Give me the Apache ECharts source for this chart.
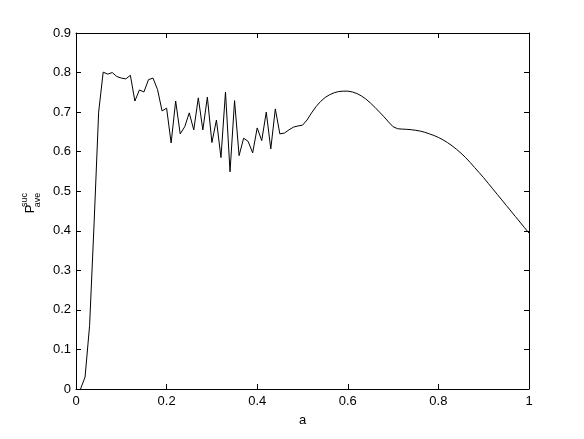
<!DOCTYPE html>
<html>
<head>
<meta charset="utf-8">
<script src="https://cdn.jsdelivr.net/npm/echarts@6/dist/echarts.min.js"></script>
<style>
html,body{margin:0;padding:0;background:#fff;}
#chart{width:584px;height:439px;}
</style>
</head>
<body>
<div id="chart"></div>
<script>
const aValues = [
  0.01,0.02,0.03,0.04,0.05,0.06,0.07,0.08,0.09,0.10,
  0.11,0.12,0.13,0.14,0.15,0.16,0.17,0.18,0.19,0.20,
  0.21,0.22,0.23,0.24,0.25,0.26,0.27,0.28,0.29,0.30,
  0.31,0.32,0.33,0.34,0.35,0.36,0.37,0.38,0.39,0.40,
  0.41,0.42,0.43,0.44,0.45,0.46,0.47,0.48,0.49,0.50,
  0.51,0.52,0.53,0.54,0.55,0.56,0.57,0.58,0.59,0.60,
  0.61,0.62,0.63,0.64,0.65,0.66,0.67,0.68,0.69,0.70,
  0.71,0.72,0.73,0.74,0.75,0.76,0.77,0.78,0.79,0.80,
  0.81,0.82,0.83,0.84,0.85,0.86,0.87,0.88,0.89,0.90,
  0.91,0.92,0.93,0.94,0.95,0.96,0.97,0.98,0.99,1.00
];
const pSucAve = [
  0.000,0.030,0.160,0.420,0.700,0.801,0.796,0.800,0.790,0.786,
  0.784,0.793,0.728,0.756,0.751,0.782,0.786,0.757,0.703,0.710,
  0.622,0.728,0.645,0.663,0.698,0.655,0.736,0.655,0.738,0.623,
  0.680,0.585,0.751,0.549,0.729,0.590,0.634,0.626,0.597,0.660,
  0.628,0.700,0.607,0.708,0.645,0.647,0.655,0.662,0.665,0.667,
  0.680,0.698,0.714,0.727,0.737,0.744,0.749,0.752,0.753,0.753,
  0.751,0.747,0.741,0.733,0.723,0.712,0.700,0.688,0.675,0.663,
  0.658,0.657,0.6565,0.6555,0.654,0.652,0.649,0.645,0.641,0.636,
  0.630,0.623,0.615,0.606,0.596,0.585,0.573,0.560,0.547,0.534,
  0.520,0.506,0.492,0.478,0.464,0.450,0.436,0.422,0.408,0.394
];
const xTicks = { min: 0, max: 1, step: 0.2 };
const yTicks = { min: 0, max: 0.9, step: 0.1 };

const FONT = 'Liberation Sans, Arial, Helvetica, sans-serif';
const chart = echarts.init(document.getElementById('chart'), null, { renderer: 'canvas' });

const axisLine = { show: true, onZero: false, lineStyle: { color: '#000', width: 1 } };
const tickIn = { show: true, inside: true, length: 5, lineStyle: { color: '#000', width: 1 } };
const lbl = { color: '#000', fontFamily: FONT, fontSize: 13 };

chart.setOption({
  animation: false,
  backgroundColor: '#fff',
  grid: { left: 76, right: 55, top: 33, bottom: 50, containLabel: false },
  xAxis: [
    {
      type: 'value', min: xTicks.min, max: xTicks.max, interval: xTicks.step,
      position: 'bottom',
      axisLine: axisLine, axisTick: tickIn, splitLine: { show: false },
      axisLabel: Object.assign({ margin: 6 }, lbl),
      name: 'a', nameLocation: 'middle', nameGap: 25,
      nameTextStyle: { color: '#000', fontFamily: FONT, fontSize: 13 }
    },
    {
      type: 'value', min: xTicks.min, max: xTicks.max, interval: xTicks.step,
      position: 'top',
      axisLine: axisLine, axisTick: tickIn, splitLine: { show: false },
      axisLabel: { show: false }
    }
  ],
  yAxis: [
    {
      type: 'value', min: yTicks.min, max: yTicks.max, interval: yTicks.step,
      position: 'left',
      axisLine: axisLine, axisTick: tickIn, splitLine: { show: false },
      axisLabel: Object.assign({ margin: 5 }, lbl)
    },
    {
      type: 'value', min: yTicks.min, max: yTicks.max, interval: yTicks.step,
      position: 'right',
      axisLine: axisLine, axisTick: tickIn, splitLine: { show: false },
      axisLabel: { show: false }
    }
  ],
  graphic: [
    { type: 'text', x: 30, y: 209, rotation: Math.PI / 2,
      style: { text: 'P', font: '13px ' + FONT, fill: '#000', align: 'center', verticalAlign: 'middle' } },
    { type: 'text', x: 25, y: 200, rotation: Math.PI / 2,
      style: { text: 'suc', font: '9px ' + FONT, fill: '#000', align: 'center', verticalAlign: 'middle' } },
    { type: 'text', x: 37.5, y: 200, rotation: Math.PI / 2,
      style: { text: 'ave', font: '9px ' + FONT, fill: '#000', align: 'center', verticalAlign: 'middle' } }
  ],
  series: [{
    type: 'line',
    xAxisIndex: 0, yAxisIndex: 0,
    data: aValues.map((a, i) => [a, pSucAve[i]]),
    showSymbol: false, symbol: 'none',
    lineStyle: { color: '#000', width: 1 },
    smooth: false
  }]
});
</script>
</body>
</html>
